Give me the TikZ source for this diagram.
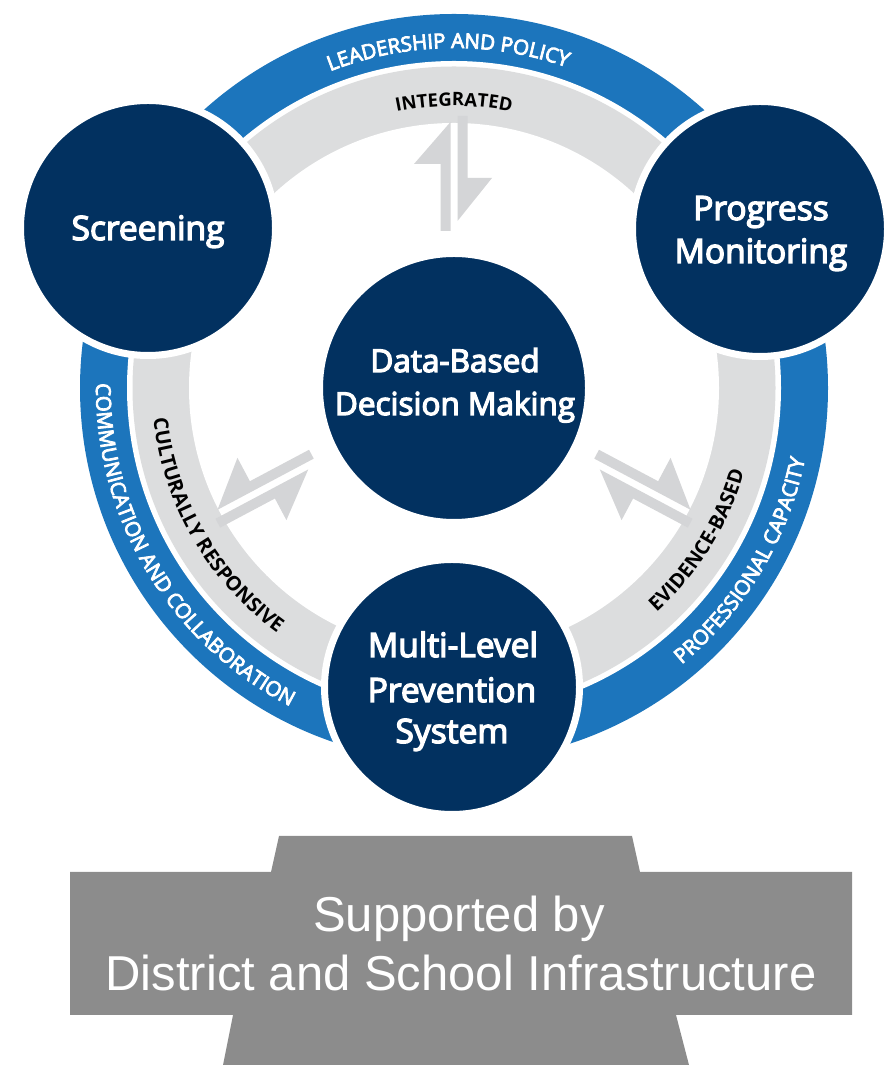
\documentclass[tikz,border=0pt]{standalone}
\usepackage{fontspec}
\setmainfont{Open Sans}
\newfontfamily\osfont{Open Sans}
\newfontfamily\osbold{Open Sans}[FakeBold=4]
\newfontfamily\basefont{Liberation Sans}
\usetikzlibrary{decorations.text,calc}
\definecolor{navy}{HTML}{023160}
\definecolor{blueband}{HTML}{1C75BC}
\definecolor{greyband}{HTML}{DCDDDE}
\definecolor{arrowgrey}{HTML}{D4D5D7}
\definecolor{basegrey}{HTML}{8C8C8C}
\newcommand\harppair[1]{%
  \begin{scope}[#1]
    \fill[harp] (157,3.5) -- (157,13.5) -- (224,13.5) -- (224,40) -- (266,3.5) -- cycle;
    \fill[harp] (272,-3.5) -- (272,-13.5) -- (210,-13.5) -- (210,-38) -- (167,-3.5) -- cycle;
  \end{scope}}
\tikzset{
  harp/.style={fill=arrowgrey},
  outercirc/.style={circle, fill=navy, draw=white, line width=7pt, minimum size=255pt, inner sep=0pt},
  centercirc/.style={circle, fill=navy, draw=white, line width=7pt, minimum size=269pt, inner sep=0pt},
  lbl/.style={text=white, font=\osbold\fontsize{33.5}{33.5}\selectfont, anchor=base, inner sep=0pt},
  clbl/.style={lbl, font=\osbold\fontsize{31.5}{31.5}\selectfont},
  basetxt/.style={text=white, font=\basefont\fontsize{49}{49}\selectfont, anchor=base, inner sep=0pt},
  arctext/.style={decorate, decoration={text along path, text align=center, text={#1}}}
}
\begin{document}
\begin{tikzpicture}[x=1pt,y=1pt]
\useasboundingbox (0,0) rectangle (884,1065);
\coordinate (Dc) at (454,677);
% rings
\fill[blueband] (Dc) circle (374);
\fill[white] (Dc) circle (327);
\fill[greyband] (Dc) circle (321.5);
\fill[white] (Dc) circle (265);
% arc texts
\path[arctext={|\color{white}\osbold\fontsize{20.5}{20.5}\selectfont|LEADERSHIP AND POLICY}]
  ($(Dc)+(136:340)$) arc[start angle=136, end angle=46, radius=340];
\path[arctext={|\color{black}\bfseries\fontsize{18.5}{18.5}\selectfont|INTEGRATED}]
  ($(Dc)+(120:282)$) arc[start angle=120, end angle=60, radius=282];
\path[arctext={|\color{white}\osbold\fontsize{20.5}{20.5}\selectfont|COMMUNICATION AND COLLABORATION}]
  ($(Dc)+(155:358)$) arc[start angle=155, end angle=267, radius=358];
\path[arctext={|\color{black}\bfseries\fontsize{20}{20}\selectfont|CULTURALLY RESPONSIVE}]
  ($(Dc)+(165:302)$) arc[start angle=165, end angle=255, radius=302];
\path[arctext={|\color{white}\osbold\fontsize{20.5}{20.5}\selectfont|PROFESSIONAL CAPACITY}]
  ($(Dc)+(-76:358)$) arc[start angle=-76, end angle=14, radius=358];
\path[arctext={|\color{black}\bfseries\fontsize{20}{20}\selectfont|EVIDENCE-BASED}]
  ($(Dc)+(-77:302)$) arc[start angle=-77, end angle=13, radius=302];
% harpoon pairs
\harppair{shift={(Dc)}, rotate=90}
\harppair{shift={(Dc)}, rotate=208, yscale=-1}
\harppair{shift={(Dc)}, rotate=332}
% circles
\node[centercirc] (D) at (Dc) {};
\node[outercirc] (S) at (148,837) {};
\node[outercirc] (P) at (760,836) {};
\node[outercirc] (M) at (452,378) {};
% labels
\node[clbl] (Dl1) at (455,693) {Data-Based};
\node[clbl] (Dl2) at (455,650) {Decision Making};
\node[lbl] (Sl) at (148,825) {Screening};
\node[lbl] (Pl1) at (761,845) {Progress};
\node[lbl] (Pl2) at (761,802) {Monitoring};
\node[lbl] (Ml1) at (453,408) {Multi-Level};
\node[lbl] (Ml2) at (452,363) {Prevention};
\node[lbl] (Ml3) at (452,322) {System};
% base
\fill[basegrey] (279,229) -- (632,229) -- (640,193) -- (852,193) -- (852,50) -- (676,50)
  -- (689,0) -- (223,0) -- (233,50) -- (70,50) -- (70,193) -- (271,193) -- cycle;
\node[basetxt] (B1) at (459,133) {Supported by};
\node[basetxt] (B2) at (461,74) {District and School Infrastructure};
\end{tikzpicture}
\end{document}
